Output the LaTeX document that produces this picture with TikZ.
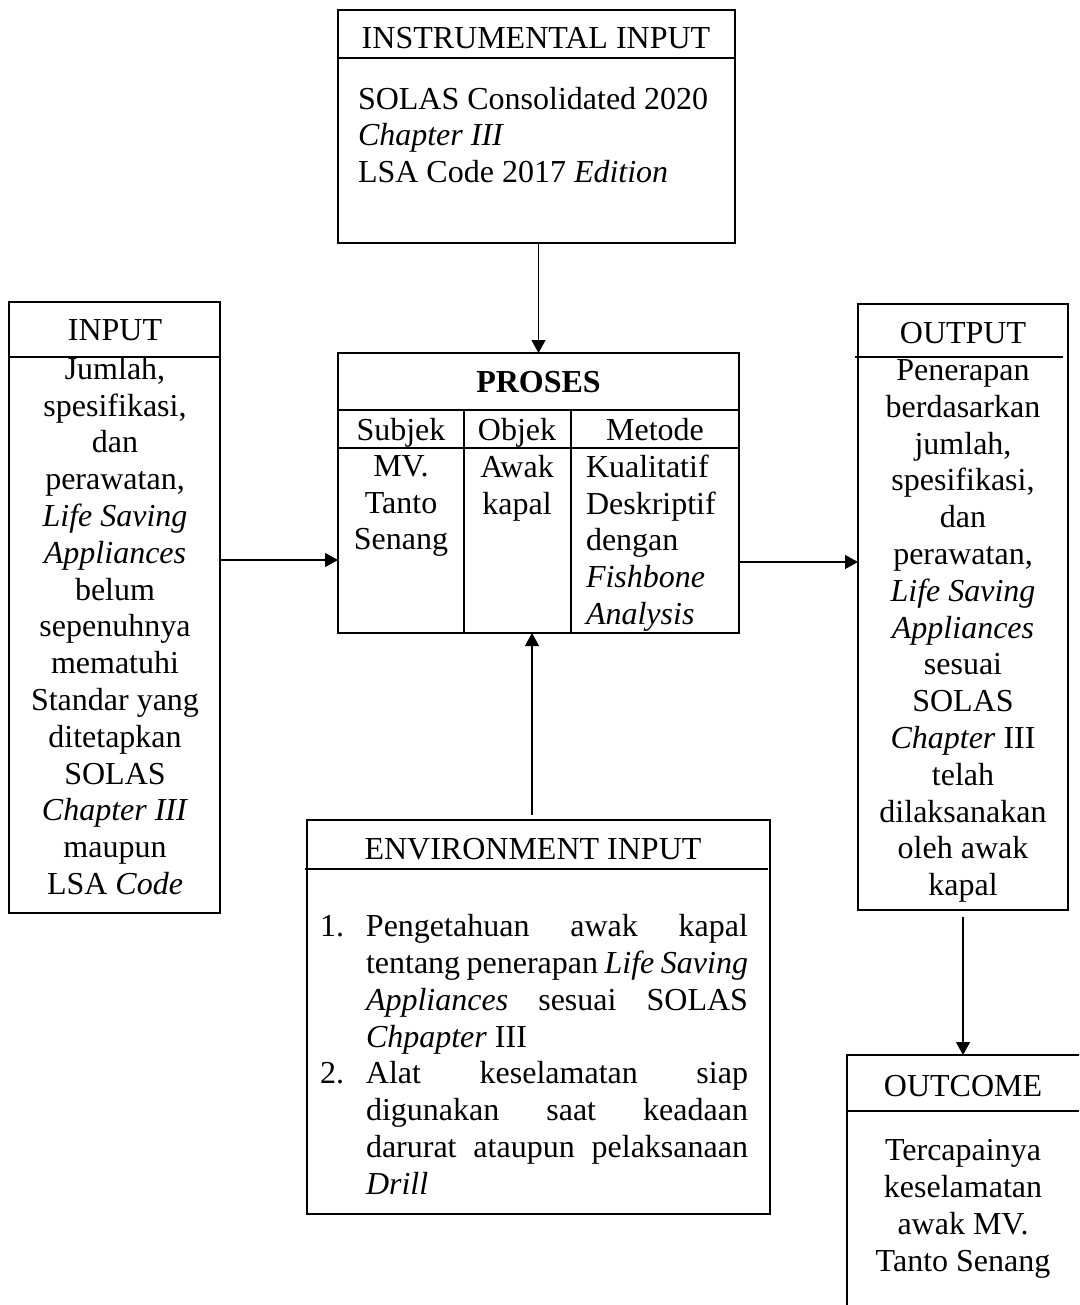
\documentclass[tikz,border=0pt]{standalone}
\usepackage{fontspec}
\setmainfont{Liberation Serif}
\usetikzlibrary{arrows.meta,calc}
\begin{document}
\begin{tikzpicture}[x=0.75pt,y=-0.75pt,
  every node/.style={font=\fontsize{24}{27.6}\selectfont, inner sep=0pt, outer sep=0pt},
  box/.style={draw, line width=1.4pt, rectangle},
  hline/.style={line width=0.9pt},
  tline/.style={line width=1.4pt},
  arr/.style={line width=0.9pt, -{Triangle[length=9.75pt,width=10.5pt]}},
]
\useasboundingbox (0,0) rectangle (1079,1305);
\clip (0,0) rectangle (1079,1305);

% boxes
\node[box, minimum width=297.75pt, minimum height=174.75pt] (instr) at (536.5,126.5) {};
\node[box, minimum width=300.75pt, minimum height=210pt] (proses) at (538.5,493) {};
\node[box, minimum width=158.25pt, minimum height=458.25pt] (input) at (114.5,607.5) {};
\node[box, minimum width=157.5pt, minimum height=454.5pt] (output) at (963,607) {};
\node[box, minimum width=347.25pt, minimum height=295.5pt] (env) at (538.5,1017) {};
\node[box, minimum width=182.25pt, minimum height=206.25pt] (outcome) at (968.5,1192.5) {};

% inner rules
\draw[hline] (338,58) -- (735,58);
\draw[tline] (338,410) -- (739,410);
\draw[tline] (338,448) -- (739,448);
\draw[tline] (464,410) -- (464,633);
\draw[tline] (571,410) -- (571,633);
\draw[hline] (9,357) -- (220,357);
\draw[hline] (855,357) -- (1063,357);
\draw[hline] (305,869) -- (768,869);
\draw[hline] (847,1111) -- (1079,1111);

% texts
\node (instrh) at (536,38) {INSTRUMENTAL INPUT};
\node[anchor=west, align=left] (instrb) at (358,135) {SOLAS Consolidated 2020\\\textit{Chapter III}\\LSA Code 2017 \textit{Edition}};

\node (prosh) at (538.5,382) {\textbf{PROSES}};
\node[anchor=base] (subj) at (401,440) {Subjek};
\node[anchor=base] (obj) at (517,440) {Objek};
\node[anchor=base] (met) at (655,440) {Metode};
\node[align=center] (subjb) at (401,506) {MV.\\Tanto\\Senang};
\node[align=center] (objb) at (517,488) {Awak\\kapal};
\node[anchor=west, align=left] (metb) at (586,543) {Kualitatif\\Deskriptif\\dengan\\\textit{Fishbone}\\\textit{Analysis}};

\node (inh) at (115,330) {INPUT};
\node[align=center] (inb) at (115,626) {Jumlah,\\spesifikasi,\\dan\\perawatan,\\\textit{Life Saving}\\\textit{Appliances}\\belum\\sepenuhnya\\mematuhi\\Standar yang\\ditetapkan\\SOLAS\\\textit{Chapter III}\\maupun\\LSA \textit{Code}};

\node (outh) at (963,333) {OUTPUT};
\node[align=center] (outb) at (963,631) {Penerapan\\berdasarkan\\jumlah,\\spesifikasi,\\dan\\perawatan,\\\textit{Life Saving}\\\textit{Appliances}\\sesuai\\SOLAS\\\textit{Chapter} III\\telah\\dilaksanakan\\oleh awak\\kapal};

\node (envh) at (533,849) {ENVIRONMENT INPUT};
\node[anchor=west, align=left] (envb) at (320,1054.5) {%
\makebox[34.5pt][l]{1.}\makebox[286.5pt][s]{Pengetahuan awak kapal}\\
\hspace*{34.5pt}\makebox[286.5pt][s]{tentang penerapan \textit{Life Saving}}\\
\hspace*{34.5pt}\makebox[286.5pt][s]{\textit{Appliances} sesuai SOLAS}\\
\hspace*{34.5pt}\textit{Chpapter} III\\
\makebox[34.5pt][l]{2.}\makebox[286.5pt][s]{Alat keselamatan siap}\\
\hspace*{34.5pt}\makebox[286.5pt][s]{digunakan saat keadaan}\\
\hspace*{34.5pt}\makebox[286.5pt][s]{darurat ataupun pelaksanaan}\\
\hspace*{34.5pt}\textit{Drill}};

\node (outch) at (963,1086) {OUTCOME};
\node[align=center] (outcb) at (963,1209) {Tercapainya\\keselamatan\\awak MV.\\Tanto Senang};

% connectors
\coordinate (ly) at (0,560);
\coordinate (ry) at (0,562);
\coordinate (ex) at (532,0);
\draw[arr] (proses.north |- instr.south) -- (proses.north);
\draw[arr] (input.east |- ly) -- (proses.west |- ly);
\draw[arr] (proses.east |- ry) -- (output.west |- ry);
\draw[arr] ($(output.south)+(0,7)$) -- (outcome.north -| output.south);
\draw[arr] ($(env.north -| ex)+(0,-5)$) -- (proses.south -| ex);
\end{tikzpicture}
\end{document}
